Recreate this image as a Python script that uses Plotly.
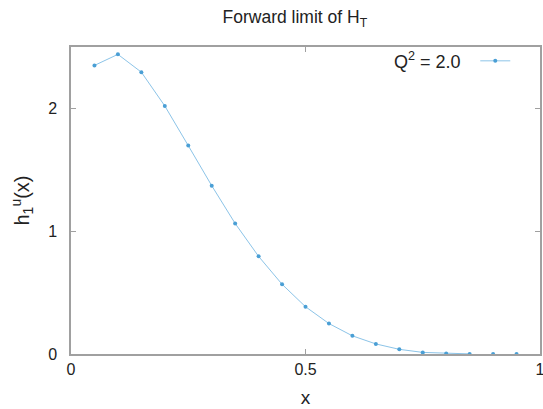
import plotly.graph_objects as go

x_vals = [0.05, 0.10, 0.15, 0.20, 0.25, 0.30, 0.35, 0.40, 0.45, 0.50,
          0.55, 0.60, 0.65, 0.70, 0.75, 0.80, 0.85, 0.90, 0.95]
h1u = [2.35, 2.44, 2.295, 2.02, 1.697, 1.371, 1.063, 0.795, 0.568, 0.385,
       0.248, 0.148, 0.082, 0.038, 0.013, 0.004, 0.001, 0.0, 0.0]
n_line = 17  # line drawn through the first points only

line_color = "#8cc4e8"
marker_color = "#4a9fd5"
axis_color = "#a0a0a0"
font_family = "Liberation Sans, Arial, sans-serif"

fig = go.Figure()
fig.add_trace(go.Scatter(
    x=x_vals[:n_line], y=h1u[:n_line], mode="lines+markers", name=" ",
    line=dict(color=line_color, width=1),
    marker=dict(color=marker_color, size=4),
    showlegend=True,
))
fig.add_trace(go.Scatter(
    x=x_vals[n_line:], y=h1u[n_line:], mode="markers",
    marker=dict(color=marker_color, size=4), showlegend=False,
))

axis_common = dict(
    showline=True, linecolor=axis_color, linewidth=1.5, mirror="ticks",
    ticks="inside", ticklen=5, tickcolor=axis_color, showgrid=False,
    zeroline=False, automargin=False, ticklabeloverflow="allow",
    tickfont=dict(size=16, color="#222222", family=font_family),
)

fig.update_layout(
    width=543, height=409,
    margin=dict(l=71, r=3, t=47, b=55),
    paper_bgcolor="white", plot_bgcolor="white",
    font=dict(family=font_family, color="#222222"),
    title=dict(text="Forward limit of H<sub>T</sub>", x=0.543, xanchor="center",
               y=0.959, yanchor="middle", automargin=False,
               font=dict(size=17.5, color="#222222")),
    xaxis=dict(range=[0, 1], tickvals=[0, 0.5, 1], ticktext=["0", "0.5", "1"],
               title=dict(text="x", font=dict(size=19), standoff=14), **axis_common),
    yaxis=dict(range=[0, 2.5], tickvals=[0, 1, 2], ticktext=["0", "1", "2"],
               ticklabelstandoff=9,
               title=dict(text="h<sub>1</sub><sup>u</sup>(x)", font=dict(size=20), standoff=13),
               **axis_common),
    legend=dict(x=0.862, y=1.01, xanchor="left", yanchor="top",
                bgcolor="rgba(0,0,0,0)", font=dict(size=16), itemwidth=30),
    annotations=[dict(text="Q<sup>2</sup> = 2.0", xref="paper", yref="paper",
                      x=0.835, y=0.955, xanchor="right", yanchor="middle",
                      showarrow=False, font=dict(size=18, color="#222222"))],
)

fig.write_html("out.html", config={"displayModeBar": False},
               post_script="document.body.style.margin='0';")
